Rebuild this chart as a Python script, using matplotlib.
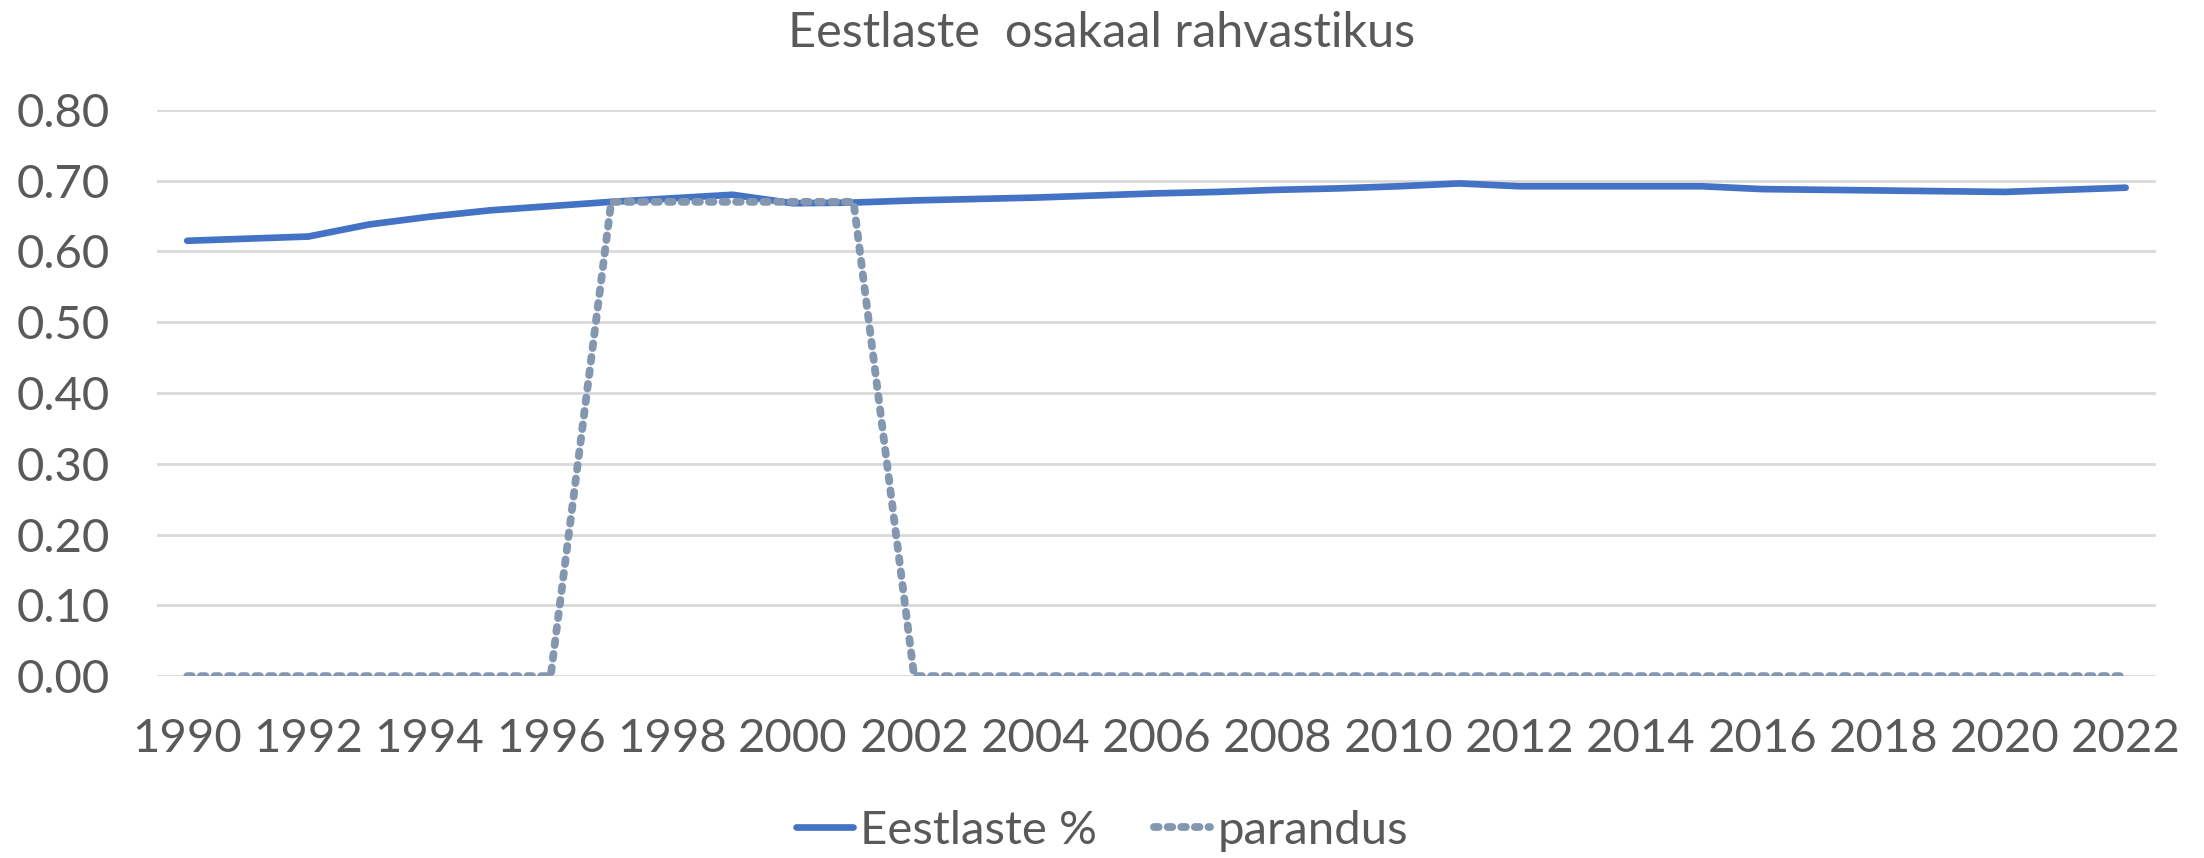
import matplotlib
matplotlib.use("Agg")
import matplotlib.pyplot as plt
from matplotlib.ticker import FormatStrFormatter

years = list(range(1990, 2023))
eestlaste = [0.615, 0.618, 0.621, 0.638, 0.649, 0.658, 0.664, 0.670, 0.675, 0.680,
             0.668, 0.669, 0.672, 0.674, 0.676, 0.679, 0.682, 0.684, 0.687, 0.689,
             0.692, 0.696, 0.692, 0.692, 0.692, 0.692, 0.688, 0.687, 0.686, 0.685,
             0.684, 0.687, 0.690]
parandus = [0, 0, 0, 0, 0, 0, 0, 0.670, 0.670, 0.670,
            0.670, 0.670, 0, 0, 0, 0, 0, 0, 0, 0,
            0, 0, 0, 0, 0, 0, 0, 0, 0, 0,
            0, 0, 0]
yticks = [0.0, 0.1, 0.2, 0.3, 0.4, 0.5, 0.6, 0.7, 0.8]

txt = "#595959"
plt.rcParams['font.family'] = ['Lato', 'DejaVu Sans']

fig = plt.figure(figsize=(22.04, 8.58), dpi=100)
ax = fig.add_axes([0.0712, 0.212, 0.907, 0.66])

ax.plot(years, eestlaste, color="#4472C4", lw=4.8, solid_capstyle="round",
        solid_joinstyle="round", label="Eestlaste %", zorder=3)
ax.plot(years, parandus, color="#8497B0", lw=5.6, linestyle=(0, (0.6, 1.15)),
        dash_capstyle="round", label="parandus", zorder=4)

ax.set_xlim(1989.5, 2022.5)
ax.set_ylim(0, 0.8)
ax.set_yticks(yticks)
ax.set_xticks(years[::2])
ax.yaxis.set_major_formatter(FormatStrFormatter("%.2f"))
ax.grid(axis="y", color="#D9D9D9", lw=2)
ax.set_axisbelow(True)
for s in ax.spines.values():
    s.set_visible(False)
ax.tick_params(length=0, labelsize=34, labelcolor=txt)
ax.tick_params(axis="x", pad=30)
ax.tick_params(axis="y", pad=34)

fig.text(0.5, 0.962, "Eestlaste  osakaal rahvastikus", color=txt, fontsize=35,
         ha="center", va="center")

fig.legend(loc="lower center", bbox_to_anchor=(0.5, -0.042), ncol=2, frameon=False,
           fontsize=34, labelcolor=txt, handlelength=1.2, handletextpad=0.15,
           columnspacing=1.2)

fig.savefig("out.png", dpi=100)
